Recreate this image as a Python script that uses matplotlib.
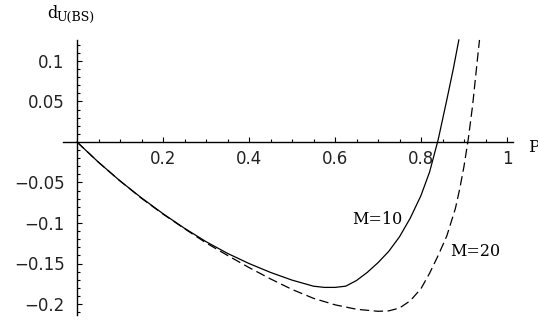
import matplotlib
matplotlib.use("Agg")
import matplotlib.pyplot as plt

# ---- data ----
p_m10 = [0.0, 0.05, 0.10, 0.15, 0.20, 0.25, 0.30, 0.35, 0.40, 0.45, 0.50, 0.55,
         0.575, 0.60, 0.625, 0.65, 0.675, 0.70, 0.725, 0.75, 0.775, 0.80, 0.82,
         0.84, 0.86, 0.875, 0.888]
d_m10 = [0.0, -0.025, -0.048, -0.069, -0.0885, -0.1065, -0.123, -0.1375, -0.150,
         -0.161, -0.1705, -0.178, -0.1795, -0.1795, -0.178, -0.171, -0.161, -0.149,
         -0.135, -0.117, -0.094, -0.066, -0.037, 0.003, 0.052, 0.090, 0.126]

p_m20 = [0.0, 0.05, 0.10, 0.15, 0.20, 0.25, 0.30, 0.35, 0.40, 0.45, 0.50, 0.55,
         0.60, 0.65, 0.70, 0.725, 0.75, 0.775, 0.80, 0.82, 0.84, 0.86, 0.88, 0.89,
         0.90, 0.91, 0.92, 0.93, 0.936]
d_m20 = [0.0, -0.025, -0.048, -0.0695, -0.089, -0.107, -0.1245, -0.140, -0.155,
         -0.169, -0.182, -0.193, -0.201, -0.2065, -0.209, -0.2085, -0.205, -0.196,
         -0.181, -0.162, -0.140, -0.116, -0.082, -0.058, -0.030, 0.004, 0.045,
         0.096, 0.126]

x_major = [0.2, 0.4, 0.6, 0.8, 1.0]
x_major_labels = ["0.2", "0.4", "0.6", "0.8", "1"]
y_major = [-0.2, -0.15, -0.1, -0.05, 0.05, 0.1]
y_major_labels = ["\u22120.2", "\u22120.15", "\u22120.1", "\u22120.05", "0.05", "0.1"]
series_labels = ["M=10", "M=20"]

W, H = 538, 324
fig = plt.figure(figsize=(W / 100, H / 100), dpi=100)
ax = fig.add_axes([0, 0, 1, 1])

# pixel mapping: origin at (77,142); 430 px per unit in x, 810 px per unit in y
ox, oy, sx, sy = 77, 142, 430, 810
ax.set_xlim(-ox / sx, (W - ox) / sx)
ax.set_ylim(-(H - oy) / sy, oy / sy)

ax.plot(p_m10, d_m10, color="black", lw=0.9, solid_joinstyle="round")
ln, = ax.plot(p_m20, d_m20, color="black", lw=0.9)
ln.set_dashes([7.5, 3.6])

for s in ["top", "right"]:
    ax.spines[s].set_visible(False)
ax.spines["left"].set_position(("data", 0))
ax.spines["bottom"].set_position(("data", 0))
ax.spines["bottom"].set_bounds(-14 / sx, 1.014)
ax.spines["left"].set_bounds(-0.214, 0.126)
for s in ["left", "bottom"]:
    ax.spines[s].set_linewidth(1.0)

ax.set_xticks(x_major)
ax.set_xticklabels(x_major_labels)
ax.set_xticks([round(0.05 * i, 2) for i in range(1, 21) if i % 4 != 0], minor=True)
ax.set_yticks(y_major)
ax.set_yticklabels(y_major_labels)
ax.set_yticks([round(0.01 * i, 2) for i in range(-21, 13) if i != 0 and i % 5 != 0], minor=True)

ax.tick_params(axis="both", which="both", direction="in", width=0.8, colors="black")
ax.tick_params(axis="both", which="major", length=3.5, labelsize=12)
ax.tick_params(axis="both", which="minor", length=2.2)
ax.tick_params(axis="x", which="major", pad=6)
ax.tick_params(axis="y", which="major", pad=9)
for t in ax.get_xticklabels() + ax.get_yticklabels():
    t.set_color("#222222")

def fx(px):
    return px / W

def fy(py):
    return 1 - py / H

serif = ["DejaVu Serif"]
fig.text(fx(47), fy(14), "d", family=serif, fontsize=11.5, va="center", ha="left")
fig.text(fx(56), fy(17), "U(BS)", family=serif, fontsize=9, va="center", ha="left")
fig.text(fx(528), fy(147), "P", family=serif, fontsize=12, va="center", ha="left")

ax.text((402 - ox) / sx, (oy - 220) / sy, series_labels[0], family=serif,
        fontsize=11.5, ha="right", va="center")
ax.text((450 - ox) / sx, (oy - 252) / sy, series_labels[1], family=serif,
        fontsize=11.5, ha="left", va="center")

fig.savefig("out.png", dpi=100, facecolor="white")
